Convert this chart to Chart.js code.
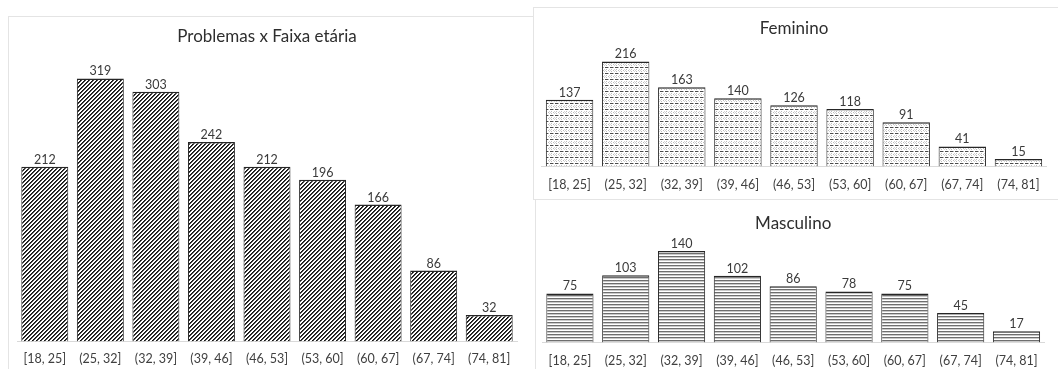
<!DOCTYPE html>
<html>
<head>
<meta charset="utf-8">
<script src="https://cdn.jsdelivr.net/npm/chart.js@4.4.1/dist/chart.umd.min.js"></script>
<style>
  html, body { margin: 0; padding: 0; background: #fff; }
  body { width: 1058px; height: 369px; position: relative; overflow: hidden; font-family: Lato, "Open Sans", sans-serif; }
  .panel { position: absolute; border: 1px solid #e4e4e4; box-sizing: border-box; background: #fff; }
  .box { position: absolute; }
</style>
</head>
<body>
<div class="panel" style="left:8px; top:16px; width:527px; height:370px; border-right:none;"></div>
<div class="panel" style="left:533px; top:7px; width:530px; height:193px;"></div>
<div class="panel" style="left:535px; top:199px; width:530px; height:180px;"></div>

<div class="box" style="left:8px; top:16px; width:522px; height:364px;"><canvas id="total"></canvas></div>
<div class="box" style="left:535px; top:7px; width:523px; height:203px;"><canvas id="female"></canvas></div>
<div class="box" style="left:535px; top:199px; width:523px; height:183px;"><canvas id="male"></canvas></div>

<script>
// Age bands shared by all three histograms
const ageBands = ["[18, 25]", "(25, 32]", "(32, 39]", "(39, 46]", "(46, 53]", "(53, 60]", "(60, 67]", "(67, 74]", "(74, 81]"];

// Counts of problems per age band
const totalCounts  = [212, 319, 303, 242, 212, 196, 166, 86, 32];
const femaleCounts = [137, 216, 163, 140, 126, 118, 91, 41, 15];
const maleCounts   = [75, 103, 140, 102, 86, 78, 75, 45, 17];

const chartTitles = {
  total: "Problemas x Faixa etária",
  female: "Feminino",
  male: "Masculino"
};

// ---- fill patterns, drawn pixel by pixel on small tiles ----
function tilePattern(w, h, paint) {
  const c = document.createElement("canvas");
  c.width = w; c.height = h;
  const g = c.getContext("2d");
  g.fillStyle = "#fff";
  g.fillRect(0, 0, w, h);
  paint(g);
  return g.createPattern(c, "repeat");
}

// wide upward diagonal stripes
const diagonalFill = tilePattern(4, 4, g => {
  for (let x = 0; x < 4; x++) {
    for (let y = 0; y < 4; y++) {
      const k = (x + y) % 4;
      if (k === 0) { g.fillStyle = "#111"; g.fillRect(x, y, 1, 1); }
      else if (k === 1) { g.fillStyle = "#444"; g.fillRect(x, y, 1, 1); }
    }
  }
});

// dashed rows with fine dots in between
const dottedFill = tilePattern(5, 6, g => {
  g.fillStyle = "#4a4a4a";
  g.fillRect(0, 0, 3, 1);
  g.fillStyle = "#b0b0b0";
  g.fillRect(3, 0, 1, 1);
  g.fillStyle = "#bdbdbd";
  g.fillRect(1, 2, 1, 1);
  g.fillRect(3, 3, 1, 1);
  g.fillRect(1, 4, 1, 1);
  g.fillStyle = "#d6d6d6";
  g.fillRect(4, 2, 1, 1);
  g.fillRect(0, 3, 1, 1);
  g.fillRect(4, 4, 1, 1);
});

// narrow horizontal lines
const horizontalFill = tilePattern(2, 3, g => {
  g.fillStyle = "#6e6e6e";
  g.fillRect(0, 0, 2, 1);
  g.fillStyle = "#c9c9c9";
  g.fillRect(0, 1, 2, 1);
});

// value labels above each bar
const valueLabels = {
  id: "valueLabels",
  afterDatasetsDraw(chart) {
    const ctx = chart.ctx;
    ctx.save();
    ctx.font = "12.5px Lato, 'Open Sans', sans-serif";
    ctx.fillStyle = "#3a3a3a";
    ctx.textAlign = "center";
    ctx.textBaseline = "alphabetic";
    chart.data.datasets.forEach((ds, di) => {
      chart.getDatasetMeta(di).data.forEach((bar, i) => {
        ctx.fillText(String(ds.data[i]), bar.x, bar.y - 3);
      });
    });
    ctx.restore();
  }
};

function histogram(id, values, title, fill, yMax, pad, titlePad, tickPad) {
  return new Chart(document.getElementById(id), {
    type: "bar",
    data: {
      labels: ageBands,
      datasets: [{
        data: values,
        backgroundColor: fill,
        borderColor: "#262626",
        borderWidth: { top: 1.5, left: 1, right: 1, bottom: 0 },
        borderSkipped: false,
        categoryPercentage: 1,
        barPercentage: 0.845
      }]
    },
    options: {
      responsive: true,
      maintainAspectRatio: false,
      animation: false,
      layout: { padding: pad },
      plugins: {
        legend: { display: false },
        tooltip: { enabled: false },
        title: {
          display: true,
          text: title,
          color: "#2e2e2e",
          font: { family: "Lato, 'Open Sans', sans-serif", size: 17, weight: "normal" },
          padding: titlePad
        }
      },
      scales: {
        x: {
          grid: { display: false, drawTicks: false },
          border: { display: true, color: "#d9d9d9", width: 1 },
          ticks: {
            color: "#404040",
            padding: tickPad,
            maxRotation: 0,
            autoSkip: false,
            font: { family: "Lato, 'Open Sans', sans-serif", size: 12.5 }
          }
        },
        y: { display: false, min: 0, max: yMax }
      }
    },
    plugins: [valueLabels]
  });
}

histogram("total", totalCounts, chartTitles.total, diagonalFill, 350,
  { left: 9, right: 13, top: 0, bottom: 3.6 }, { top: 10.5, bottom: 6 }, 10);
histogram("female", femaleCounts, chartTitles.female, dottedFill, 250,
  { left: 6.5, right: 11.5, top: 0, bottom: 6.6 }, { top: 11.5, bottom: 6 }, 11);
histogram("male", maleCounts, chartTitles.male, horizontalFill, 160,
  { left: 7, right: 13.6, top: 0, bottom: 2.6 }, { top: 14, bottom: 4.5 }, 11);
</script>
</body>
</html>
